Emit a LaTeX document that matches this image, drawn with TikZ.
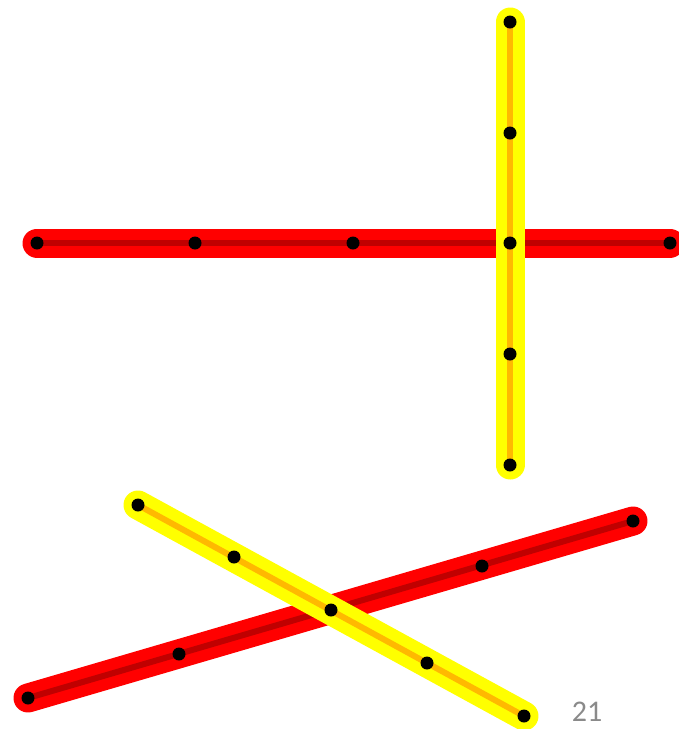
\documentclass[tikz,border=0pt]{standalone}
\usepackage{fontspec}
\setmainfont{Carlito}
\definecolor{bandred}{HTML}{FF0000}
\definecolor{corered}{HTML}{C00000}
\definecolor{bandyellow}{HTML}{FFFF00}
\definecolor{coreorange}{HTML}{FFB900}
\definecolor{pagegray}{HTML}{8A8A8A}
\tikzset{
  redband/.style={draw=bandred, line width=29pt, line cap=round},
  redcore/.style={draw=corered, line width=6pt},
  yelband/.style={draw=bandyellow, line width=29pt, line cap=round},
  yelcore/.style={draw=coreorange, line width=6pt},
  dot/.style={circle, fill=black, inner sep=0pt, minimum size=13pt}
}
\begin{document}
\begin{tikzpicture}[x=1pt,y=-1pt]
\useasboundingbox (0,0) rectangle (679,729);
% top cross coordinates
\coordinate (h1) at (37,243);
\coordinate (h2) at (195,243);
\coordinate (h3) at (353,243);
\coordinate (hc) at (510,243);
\coordinate (h5) at (670,243);
\coordinate (v1) at (510,22);
\coordinate (v2) at (510,133);
\coordinate (v4) at (510,354);
\coordinate (v5) at (510,465);
% bottom cross coordinates
\coordinate (r1) at (28,698);
\coordinate (r2) at (179,654);
\coordinate (bc) at (331,610);
\coordinate (r4) at (482,566);
\coordinate (r5) at (633,521);
\coordinate (y1) at (138,505);
\coordinate (y2) at (234,557);
\coordinate (y4) at (427,663);
\coordinate (y5) at (524,716);
% top red
\draw[redband] (h1) -- (h5);
\draw[redcore] (h1) -- (h5);
% top yellow
\draw[yelband] (v1) -- (v5);
\draw[yelcore] (v1) -- (v5);
% bottom red
\draw[redband] (r1) -- (r5);
\draw[redcore] (r1) -- (r5);
% bottom yellow
\draw[yelband] (y1) -- (y5);
\draw[yelcore] (y1) -- (y5);
% dots
\foreach \p in {h1,h2,h3,hc,h5,v1,v2,v4,v5,r1,r2,bc,r4,r5,y1,y2,y4,y5}
  \node[dot] (d\p) at (\p) {};
\node[text=pagegray, font=\fontsize{30}{32}\selectfont] (pg) at (587,712) {21};
\end{tikzpicture}
\end{document}
